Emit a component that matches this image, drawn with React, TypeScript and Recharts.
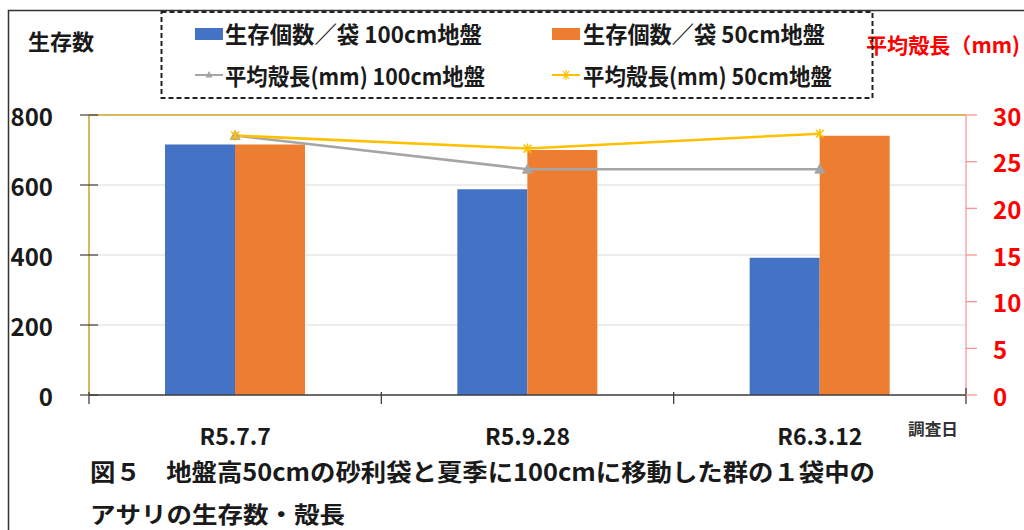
import React from 'react';
import {
  ComposedChart,
  Bar,
  Line,
  XAxis,
  YAxis,
  CartesianGrid,
  ReferenceLine,
} from 'recharts';

// Survey dates
const categories = ['R5.7.7', 'R5.9.28', 'R6.3.12'];
// Surviving clams per bag
const survival100 = [716, 588, 392];
const survival50 = [716, 700, 741];
// Mean shell length (mm)
const shell100 = [27.8, 24.2, 24.2];
const shell50 = [27.8, 26.4, 28.0];

const countTicks = [0, 200, 400, 600, 800];
const lengthTicks = [0, 5, 10, 15, 20, 25, 30];

const seriesLabels = [
  '生存個数／袋 100cm地盤',
  '生存個数／袋 50cm地盤',
  '平均殻長(mm) 100cm地盤',
  '平均殻長(mm) 50cm地盤',
];
const leftTitle = '生存数';
const rightTitle = '平均殻長（mm)';
const xTitle = '調査日';
const captionLines = [
  '図５　地盤高50cmの砂利袋と夏季に100cmに移動した群の１袋中の',
  'アサリの生存数・殻長',
];

const BLUE = '#4472C4';
const ORANGE = '#ED7D31';
const GRAY = '#A5A5A5';
const YELLOW = '#FFC000';
const GOLD = '#D8B95E';
const AXIS = '#404040';
const FONT = '"Noto Sans CJK JP", "Noto Sans", sans-serif';

const data = categories.map((date, i) => ({
  date,
  s100: survival100[i],
  s50: survival50[i],
  l100: shell100[i],
  l50: shell50[i],
}));

function XTick(props: any) {
  const { x, y, payload, index, visibleTicksCount } = props;
  const half = typeof payload?.offset === 'number' && payload.offset > 0 ? payload.offset : 146;
  const last = index === visibleTicksCount - 1;
  return (
    <g>
      <line x1={x - half} x2={x - half} y1={y - 3} y2={y + 9} stroke={AXIS} strokeWidth={1.3} />
      {last && (
        <line x1={x + half} x2={x + half} y1={y - 7} y2={y + 9} stroke={AXIS} strokeWidth={1.3} />
      )}
      <text
        x={x}
        y={y + 40}
        textAnchor="middle"
        dominantBaseline="central"
        fontFamily={FONT}
        fontWeight={700}
        fontSize={23}
        fill="#1a1a1a"
      >
        {payload.value}
      </text>
    </g>
  );
}

function LeftTick(props: any) {
  const { x, y, payload } = props;
  return (
    <g>
      <line x1={x - 9} x2={x + 9} y1={y} y2={y} stroke={AXIS} strokeWidth={1.2} />
      <text
        x={x - 36}
        y={y}
        textAnchor="end"
        dominantBaseline="central"
        fontFamily={FONT}
        fontWeight={700}
        fontSize={24}
        fill="#1a1a1a"
      >
        {payload.value}
      </text>
    </g>
  );
}

function RightTick(props: any) {
  const { x, y, payload } = props;
  return (
    <g>
      <line x1={x} x2={x + 11} y1={y} y2={y} stroke="#FF8A8A" strokeWidth={1.2} />
      <text
        x={x + 27}
        y={y}
        textAnchor="start"
        dominantBaseline="central"
        fontFamily={FONT}
        fontWeight={700}
        fontSize={24}
        fill="#FF0000"
      >
        {payload.value}
      </text>
    </g>
  );
}

function TriangleDot(props: any) {
  const { cx, cy, index } = props;
  if (cx == null || cy == null) return <g key={`t-${index}`} />;
  return (
    <polygon
      key={`t-${index}`}
      points={`${cx},${cy - 5} ${cx - 5},${cy + 4} ${cx + 5},${cy + 4}`}
      fill={GRAY}
      stroke={GRAY}
    />
  );
}

function StarDot(props: any) {
  const { cx, cy, index } = props;
  if (cx == null || cy == null) return <g key={`s-${index}`} />;
  const r = 4;
  return (
    <path
      key={`s-${index}`}
      d={`M${cx - r},${cy - r}L${cx + r},${cy + r}M${cx - r},${cy + r}L${cx + r},${cy - r}M${cx},${cy - r - 1}L${cx},${cy + r + 1}`}
      stroke={YELLOW}
      strokeWidth={1.5}
      fill="none"
    />
  );
}

function Overlay() {
  const textStyle = { fontFamily: FONT, fontWeight: 700 } as const;
  return (
    <svg
      width={1024}
      height={530}
      style={{ position: 'absolute', left: 0, top: 0, pointerEvents: 'none' }}
    >
      {/* frame */}
      <path d="M8.5,530 L8.5,10.5 L1024,10.5" stroke="#333" strokeWidth={1.5} fill="none" />

      {/* axis titles */}
      <text x={28} y={40} dominantBaseline="central" fontSize={22} fill="#1a1a1a" textLength={66} lengthAdjust="spacingAndGlyphs" {...textStyle}>
        {leftTitle}
      </text>
      <text x={866} y={44} dominantBaseline="central" fontSize={21} fill="#FF0000" textLength={154} lengthAdjust="spacingAndGlyphs" {...textStyle}>
        {rightTitle}
      </text>
      <text x={908} y={428} dominantBaseline="central" fontSize={16} fill="#333" textLength={50} lengthAdjust="spacingAndGlyphs" {...textStyle}>
        {xTitle}
      </text>

      {/* legend */}
      <rect x={161.5} y={12} width={711} height={86} fill="none" stroke="#222" strokeWidth={2} strokeDasharray="5 3" />
      <rect x={195} y={28} width={28} height={12} fill={BLUE} />
      <text x={225} y={33} dominantBaseline="central" fontSize={23} fill="#1a1a1a" textLength={257} lengthAdjust="spacingAndGlyphs" {...textStyle}>
        {seriesLabels[0]}
      </text>
      <rect x={552} y={28} width={28} height={12} fill={ORANGE} />
      <text x={583} y={33} dominantBaseline="central" fontSize={23} fill="#1a1a1a" textLength={242} lengthAdjust="spacingAndGlyphs" {...textStyle}>
        {seriesLabels[1]}
      </text>
      <line x1={195} x2={223} y1={75} y2={75} stroke={GRAY} strokeWidth={2} />
      <polygon points="209,71 205.5,77.5 212.5,77.5" fill={GRAY} />
      <text x={225} y={75} dominantBaseline="central" fontSize={23} fill="#1a1a1a" textLength={260} lengthAdjust="spacingAndGlyphs" {...textStyle}>
        {seriesLabels[2]}
      </text>
      <line x1={552} x2={580} y1={75} y2={75} stroke={YELLOW} strokeWidth={2} />
      <path d="M563,71L569,79M563,79L569,71M566,70L566,80" stroke={YELLOW} strokeWidth={1.2} />
      <text x={583} y={75} dominantBaseline="central" fontSize={23} fill="#1a1a1a" textLength={249} lengthAdjust="spacingAndGlyphs" {...textStyle}>
        {seriesLabels[3]}
      </text>

      {/* caption */}
      <text x={90} y={470} dominantBaseline="central" fontSize={24} fill="#1a1a1a" textLength={785} lengthAdjust="spacingAndGlyphs" {...textStyle}>
        {captionLines[0]}
      </text>
      <text x={90} y={513} dominantBaseline="central" fontSize={23} fill="#1a1a1a" textLength={255} lengthAdjust="spacingAndGlyphs" {...textStyle}>
        {captionLines[1]}
      </text>
    </svg>
  );
}

export default function App() {
  return (
    <div
      style={{
        position: 'absolute',
        left: 0,
        top: 0,
        width: 1024,
        height: 530,
        background: '#fff',
        overflow: 'hidden',
      }}
    >
      <ComposedChart
        width={1024}
        height={530}
        data={data}
        margin={{ top: 115, right: 0, bottom: 0, left: 0 }}
        barGap={0}
        barSize={70}
      >
        <CartesianGrid yAxisId="count" vertical={false} stroke="#DADADA" strokeWidth={1} />
        <XAxis
          dataKey="date"
          height={135}
          interval={0}
          tickSize={0}
          tickMargin={0}
          tickLine={false}
          axisLine={{ stroke: AXIS, strokeWidth: 1.5 }}
          tick={(p: any) => <XTick {...p} />}
        />
        <YAxis
          yAxisId="count"
          orientation="left"
          width={89}
          domain={[0, 800]}
          ticks={countTicks}
          interval={0}
          tickSize={0}
          tickMargin={0}
          tickLine={false}
          axisLine={{ stroke: GOLD, strokeWidth: 2 }}
          tick={(p: any) => <LeftTick {...p} />}
        />
        <YAxis
          yAxisId="length"
          orientation="right"
          width={58}
          domain={[0, 30]}
          ticks={lengthTicks}
          interval={0}
          tickSize={0}
          tickMargin={0}
          tickLine={false}
          axisLine={{ stroke: '#F6A8A8', strokeWidth: 1.5 }}
          tick={(p: any) => <RightTick {...p} />}
        />
        <ReferenceLine yAxisId="count" y={800} stroke={GOLD} strokeWidth={2} />
        <Bar yAxisId="count" dataKey="s100" fill={BLUE} isAnimationActive={false} />
        <Bar yAxisId="count" dataKey="s50" fill={ORANGE} isAnimationActive={false} />
        <Line
          yAxisId="length"
          dataKey="l100"
          stroke={GRAY}
          strokeWidth={2.5}
          dot={(p: any) => <TriangleDot key={`t-${p.index}`} {...p} />}
          activeDot={false}
          isAnimationActive={false}
        />
        <Line
          yAxisId="length"
          dataKey="l50"
          stroke={YELLOW}
          strokeWidth={2.5}
          dot={(p: any) => <StarDot key={`s-${p.index}`} {...p} />}
          activeDot={false}
          isAnimationActive={false}
        />
      </ComposedChart>
      <Overlay />
    </div>
  );
}
